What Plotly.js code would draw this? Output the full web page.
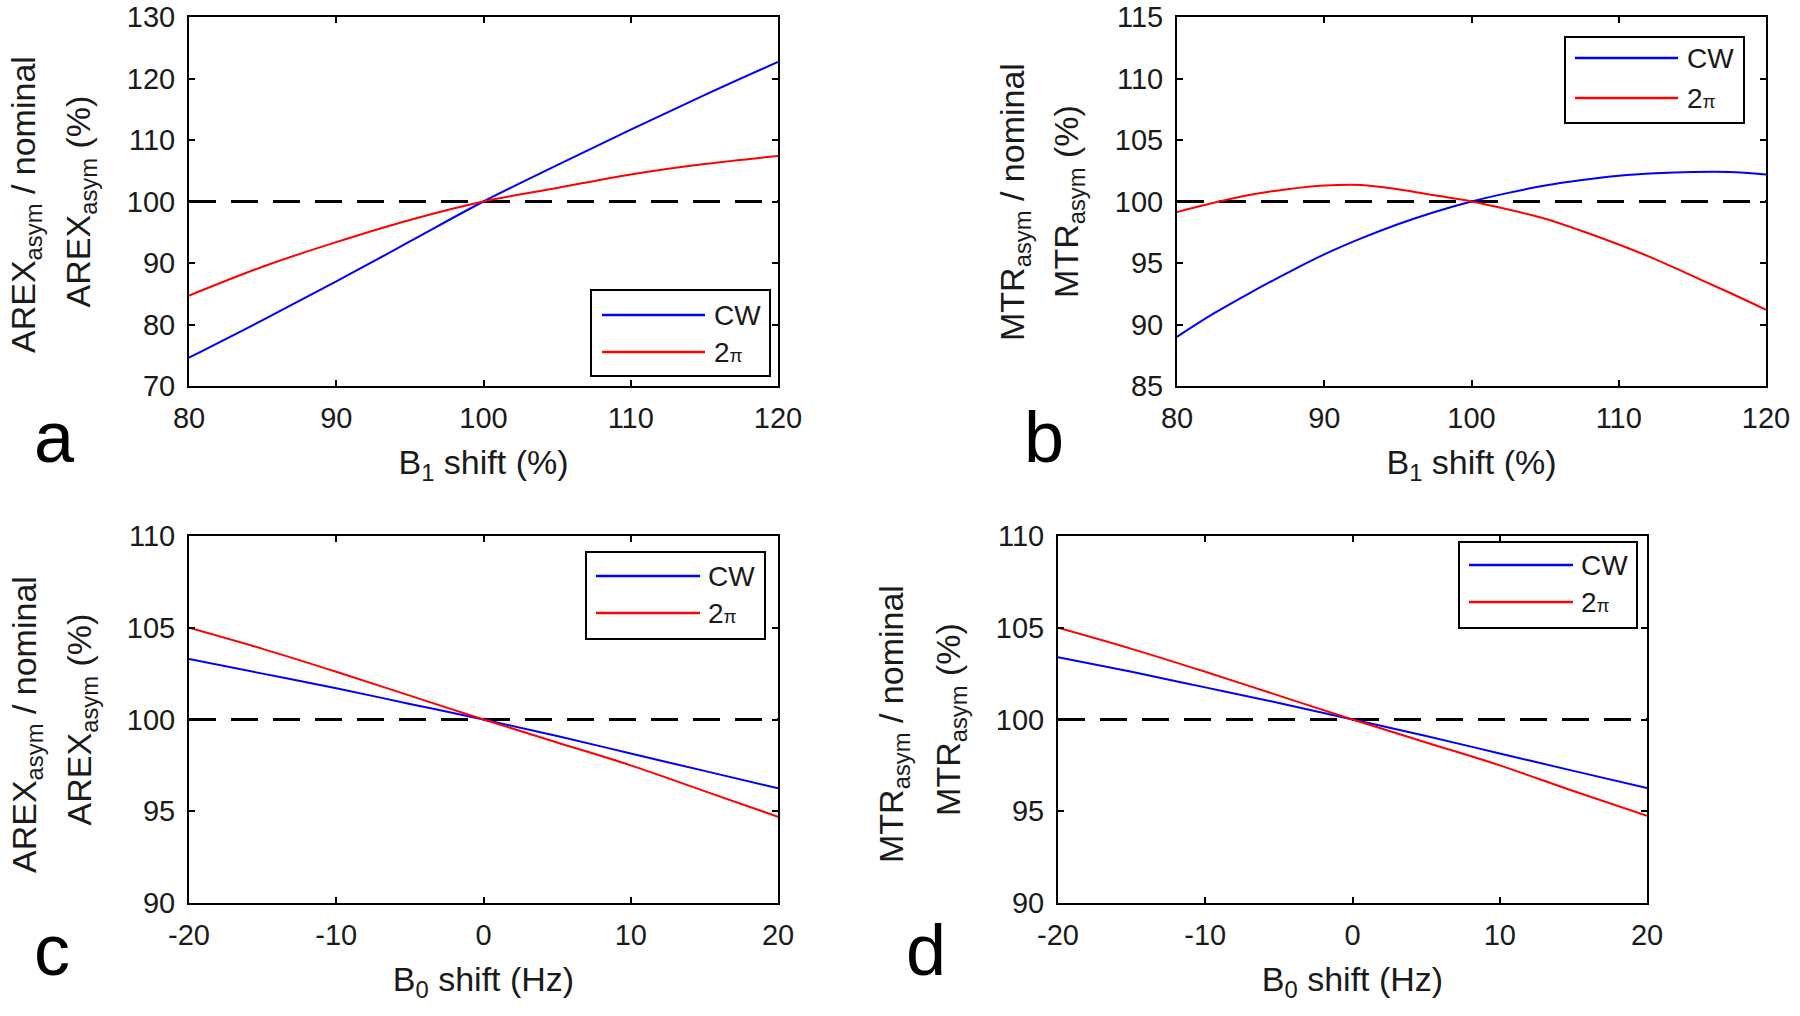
<!DOCTYPE html>
<html>
<head>
<meta charset="utf-8">
<script src="https://cdn.plot.ly/plotly-3.0.1.min.js"></script>
<style>
html,body{margin:0;padding:0;background:#fff}
#chart{width:1800px;height:1016px}
</style>
</head>
<body>
<div id="chart"></div>
<script>
// ---------- data ----------
const seriesNames = ["CW", "2\u03c0"];
const nominalLevel = 100;

// panel a : AREX vs B1 shift
const xB1 = [80, 85, 90, 95, 100, 105, 110, 115, 120];
const arexB1_CW = [74.6, 80.7, 87.0, 93.5, 100.0, 105.9, 111.7, 117.3, 122.7];
const arexB1_2pi = [84.7, 89.4, 93.4, 97.0, 100.0, 102.2, 104.4, 106.1, 107.4];

// panel b : MTR vs B1 shift
const xB1fine = [80, 82.5, 85, 87.5, 90, 92.5, 95, 97.5, 100, 102.5, 105, 107.5, 110, 112.5, 115, 117.5, 120];
const mtrB1_CW = [89.0, 90.9, 92.6, 94.2, 95.7, 97.0, 98.15, 99.15, 100.0, 100.7, 101.3, 101.75, 102.1, 102.3, 102.4, 102.4, 102.2];
const mtrB1_2pi = [99.15, 99.9, 100.55, 101.0, 101.3, 101.35, 101.0, 100.5, 100.0, 99.35, 98.6, 97.6, 96.5, 95.3, 93.95, 92.6, 91.2];

// panel c : AREX vs B0 shift
const xB0 = [-20, -15, -10, -5, 0, 5, 10, 15, 20];
const arexB0_CW = [103.3, 102.5, 101.7, 100.85, 100.0, 99.1, 98.15, 97.2, 96.25];
const arexB0_2pi = [105.0, 103.85, 102.6, 101.3, 100.0, 98.75, 97.5, 96.1, 94.7];

// panel d : MTR vs B0 shift
const mtrB0_CW = [103.4, 102.6, 101.75, 100.9, 100.0, 99.1, 98.15, 97.2, 96.27];
const mtrB0_2pi = [105.0, 103.85, 102.6, 101.3, 100.0, 98.75, 97.5, 96.1, 94.75];

// tick values
const ticksB1 = [80, 90, 100, 110, 120];
const ticksB0 = [-20, -10, 0, 10, 20];
const ticksYa = [70, 80, 90, 100, 110, 120, 130];
const ticksYb = [85, 90, 95, 100, 105, 110, 115];
const ticksYcd = [90, 95, 100, 105, 110];

const panelLetters = ["a", "b", "c", "d"];
const xTitles = ["B<sub>1</sub> shift (%)", "B<sub>1</sub> shift (%)", "B<sub>0</sub> shift (Hz)", "B<sub>0</sub> shift (Hz)"];
const yTitleTop = ["AREX<sub>asym</sub> / nominal", "MTR<sub>asym</sub> / nominal", "AREX<sub>asym</sub> / nominal", "MTR<sub>asym</sub> / nominal"];
const yTitleBottom = ["AREX<sub>asym</sub> (%)", "MTR<sub>asym</sub> (%)", "AREX<sub>asym</sub> (%)", "MTR<sub>asym</sub> (%)"];

// ---------- layout helpers ----------
const W = 1800, H = 1016;
const px = v => v / W;
const py = v => 1 - v / H;
const FONT = "Liberation Sans, Arial, Helvetica, sans-serif";
const TXT = "#1a1a1a";
const BLUE = "#0000ff", RED = "#ff0000";

// plot boxes in pixels: [left, right, top, bottom]
const boxes = [
  [189, 778, 17, 386],
  [1177, 1766, 17, 386],
  [189, 778, 536, 903],
  [1058, 1647, 536, 903]
];

const panels = [
  {x: xB1, cw: arexB1_CW, tp: arexB1_2pi, xr: [80, 120], yr: [70, 130], xt: ticksB1, yt: ticksYa},
  {x: xB1fine, cw: mtrB1_CW, tp: mtrB1_2pi, xr: [80, 120], yr: [85, 115], xt: ticksB1, yt: ticksYb},
  {x: xB0, cw: arexB0_CW, tp: arexB0_2pi, xr: [-20, 20], yr: [90, 110], xt: ticksB0, yt: ticksYcd},
  {x: xB0, cw: mtrB0_CW, tp: mtrB0_2pi, xr: [-20, 20], yr: [90, 110], xt: ticksB0, yt: ticksYcd}
];

// legend boxes [left, right, top, bottom], line x [x0,x1], row y [cw, 2pi], text x
const legends = [
  {box: [591, 770, 290, 376], lx: [602, 705], ly: [315, 352], tx: 712},
  {box: [1565, 1744, 37, 123], lx: [1575, 1678], ly: [58, 98], tx: 1685},
  {box: [586, 765, 552, 639], lx: [596, 700], ly: [576, 613], tx: 706},
  {box: [1459, 1637, 542, 628], lx: [1469, 1573], ly: [565, 602], tx: 1579}
];

// outer y-title line positions: [center x, center y]; inner line is the axis title
const yTitlePos = [[26, 205], [1015, 202], [26, 725], [893, 724]];
const yTitleStandoff = [26, 26, 25, 25];
// panel letter positions (center x, center y)
const letterPos = [[54, 437], [1044, 437], [52, 950], [926, 950]];

const traces = [];
const layout = {
  width: W, height: H,
  margin: {l: 0, r: 0, t: 0, b: 0},
  paper_bgcolor: "#fff", plot_bgcolor: "#fff",
  showlegend: false,
  font: {family: FONT, color: TXT, size: 29},
  annotations: [], shapes: []
};

panels.forEach((p, i) => {
  const n = i === 0 ? "" : String(i + 1);
  const xa = "x" + n, ya = "y" + n;
  const b = boxes[i];
  const axBase = {
    showline: true, linecolor: "#000", linewidth: 2, mirror: "allticks",
    ticks: "inside", ticklen: 6, tickwidth: 1.5, tickcolor: "#000",
    showgrid: false, zeroline: false, tickfont: {family: FONT, size: 29, color: TXT},
    fixedrange: true, automargin: false
  };
  layout["xaxis" + n] = Object.assign({}, axBase, {
    domain: [px(b[0]), px(b[1])], range: p.xr, tickvals: p.xt, ticktext: p.xt.map(String),
    anchor: ya, ticklabelstandoff: 5,
    title: {text: xTitles[i], font: {family: FONT, size: 34, color: TXT}, standoff: 17}
  });
  layout["yaxis" + n] = Object.assign({}, axBase, {
    domain: [py(b[3]), py(b[2])], range: p.yr, tickvals: p.yt, ticktext: p.yt.map(String),
    anchor: xa, ticklabelstandoff: 6,
    title: {text: yTitleBottom[i], font: {family: FONT, size: 34, color: TXT}, standoff: yTitleStandoff[i]}
  });

  // nominal dashed line
  traces.push({
    x: [p.x[0], p.x[p.x.length - 1]], y: [nominalLevel, nominalLevel],
    xaxis: xa, yaxis: ya, mode: "lines", hoverinfo: "skip",
    line: {color: "#000", width: 3, dash: "27px,15px"}, name: "nominal"
  });
  traces.push({
    x: p.x, y: p.cw, xaxis: xa, yaxis: ya, mode: "lines", name: seriesNames[0],
    line: {color: BLUE, width: 2, shape: "spline", smoothing: 1}
  });
  traces.push({
    x: p.x, y: p.tp, xaxis: xa, yaxis: ya, mode: "lines", name: seriesNames[1],
    line: {color: RED, width: 2, shape: "spline", smoothing: 1}
  });

  // legend (drawn)
  const L = legends[i];
  layout.shapes.push({type: "rect", xref: "paper", yref: "paper",
    x0: px(L.box[0]), x1: px(L.box[1]), y0: py(L.box[3]), y1: py(L.box[2]),
    line: {color: "#000", width: 2}, fillcolor: "#fff", layer: "above"});
  [BLUE, RED].forEach((c, k) => {
    layout.shapes.push({type: "line", xref: "paper", yref: "paper",
      x0: px(L.lx[0]), x1: px(L.lx[1]), y0: py(L.ly[k]), y1: py(L.ly[k]),
      line: {color: c, width: 2.5}, layer: "above"});
  });
  layout.annotations.push({xref: "paper", yref: "paper", x: px(L.tx), y: py(L.ly[0]),
    xanchor: "left", yanchor: "middle", showarrow: false, text: seriesNames[0],
    font: {family: FONT, size: 28, color: TXT}});
  layout.annotations.push({xref: "paper", yref: "paper", x: px(L.tx), y: py(L.ly[1]),
    xanchor: "left", yanchor: "middle", showarrow: false,
    text: "2<span style='font-size:19px'>\u03c0</span>",
    font: {family: FONT, size: 28, color: TXT}});

  // outer y-title line
  const Y = yTitlePos[i];
  layout.annotations.push({xref: "paper", yref: "paper", x: px(Y[0]), y: py(Y[1]),
    xanchor: "center", yanchor: "middle", showarrow: false, textangle: -90,
    text: yTitleTop[i], font: {family: FONT, size: 34, color: TXT}});

  // panel letter
  layout.annotations.push({xref: "paper", yref: "paper", x: px(letterPos[i][0]), y: py(letterPos[i][1]),
    xanchor: "center", yanchor: "middle", showarrow: false, text: panelLetters[i],
    font: {family: FONT, size: 72, color: "#000"}});
});

Plotly.newPlot("chart", traces, layout, {displayModeBar: false});
</script>
</body>
</html>
